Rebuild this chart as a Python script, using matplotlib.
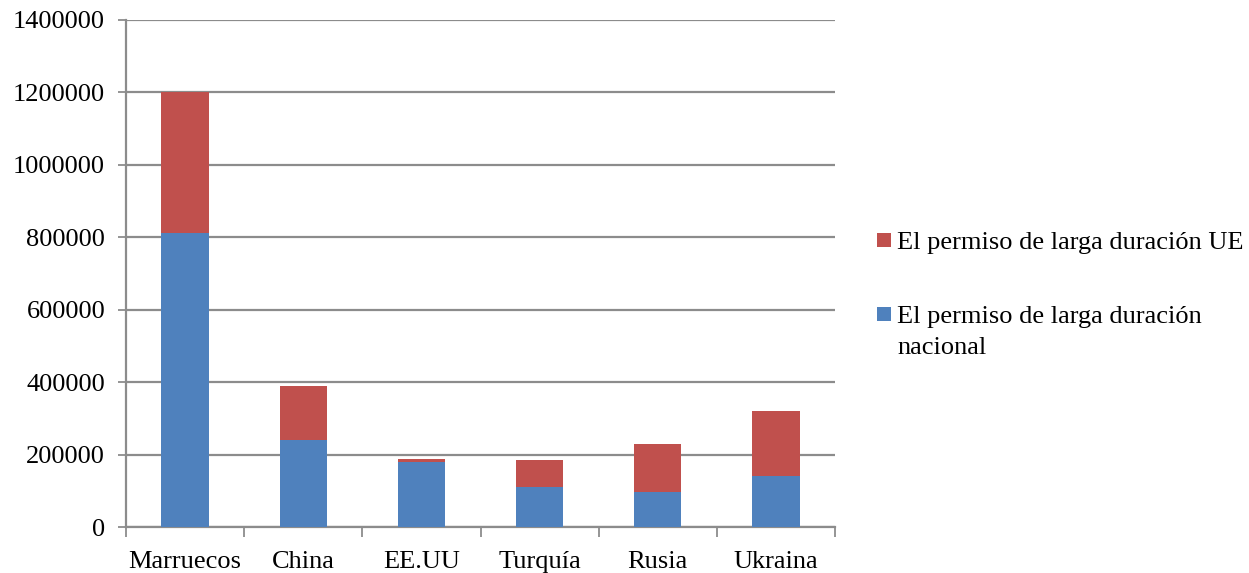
import matplotlib
matplotlib.use("Agg")
import matplotlib.pyplot as plt
import numpy as np
from matplotlib.patches import Rectangle

countries = ["Marruecos", "China", "EE.UU", "Turquía", "Rusia", "Ukraina"]
nacional = [813000, 241000, 180000, 110000, 98000, 140000]
ue = [387000, 149000, 9000, 74000, 132000, 180000]
label_ue = "El permiso de larga duración UE"
label_nac = "El permiso de larga duración\nnacional"
yticks = [0, 200000, 400000, 600000, 800000, 1000000, 1200000, 1400000]

blue = "#4F81BD"
red = "#C0504D"
grid_col = "#8C8C8C"
fs = 19

plt.rcParams["font.family"] = ["Liberation Serif", "DejaVu Serif"]

W, H = 1249, 573
fig = plt.figure(figsize=(W / 100, H / 100), dpi=100)
ax = fig.add_axes([126 / W, 46 / H, 709 / W, 507 / H])

x = np.arange(len(countries))
ax.bar(x, nacional, width=0.4, color=blue, edgecolor="none", zorder=3)
ax.bar(x, ue, width=0.4, bottom=nacional, color=red, edgecolor="none", zorder=3)

ax.set_xlim(-0.5, len(countries) - 0.5)
ax.set_ylim(0, 1400000)
ax.set_yticks(yticks)
ax.set_yticklabels([str(v) for v in yticks], fontsize=fs)
ax.yaxis.grid(True, color=grid_col, linewidth=1.6, zorder=0)
ax.set_axisbelow(True)

# category labels centred, tick marks on category boundaries
ax.set_xticks(x)
ax.set_xticklabels(countries, fontsize=fs)
ax.tick_params(axis="x", which="major", length=0, pad=17)
ax.set_xticks(np.arange(-0.5, len(countries)), minor=True)
ax.tick_params(axis="x", which="minor", length=7, color=grid_col, width=1.3)
ax.tick_params(axis="y", length=6, color=grid_col, width=1.3, pad=9)

for side in ["top", "right"]:
    ax.spines[side].set_visible(False)
for side in ["left", "bottom"]:
    ax.spines[side].set_color(grid_col)
    ax.spines[side].set_linewidth(1.6)

# legend: square swatch beside the first line of each label
def legend_entry(color, label, swatch_cy, first_baseline, line_step=31):
    fig.patches.append(Rectangle((877 / W, 1 - (swatch_cy + 7) / H), 14 / W, 14 / H,
                                 transform=fig.transFigure, facecolor=color,
                                 edgecolor="none"))
    for i, line in enumerate(label.split("\n")):
        fig.text(897 / W, 1 - (first_baseline + i * line_step) / H, line,
                 fontsize=fs, ha="left", va="baseline")

legend_entry(red, label_ue, 239.5, 249)
legend_entry(blue, label_nac, 314, 323)

fig.savefig("out.png", dpi=100)
